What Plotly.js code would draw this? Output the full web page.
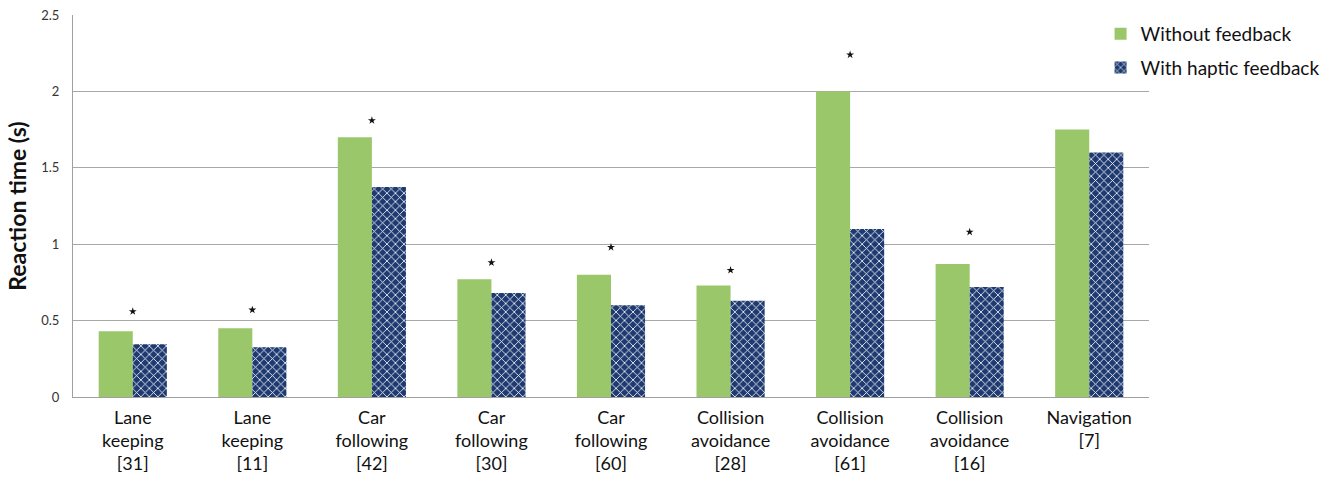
<!DOCTYPE html>
<html>
<head>
<meta charset="utf-8">
<script src="https://cdn.plot.ly/plotly-3.0.1.min.js"></script>
<style>html,body{margin:0;padding:0;background:#fff;}#chart{width:1337px;height:486px;}</style>
</head>
<body>
<div id="chart"></div>
<script>
const categories = ["Lane<br>keeping<br>[31]", "Lane<br>keeping<br>[11]", "Car<br>following<br>[42]", "Car<br>following<br>[30]", "Car<br>following<br>[60]", "Collision<br>avoidance<br>[28]", "Collision<br>avoidance<br>[61]", "Collision<br>avoidance<br>[16]", "Navigation<br>[7]"];
const withoutFeedback = [0.43, 0.45, 1.70, 0.77, 0.80, 0.73, 2.00, 0.87, 1.75];
const withHaptic = [0.345, 0.325, 1.375, 0.68, 0.60, 0.63, 1.10, 0.72, 1.60];
const sigCategories = ["Lane<br>keeping<br>[31]", "Lane<br>keeping<br>[11]", "Car<br>following<br>[42]", "Car<br>following<br>[30]", "Car<br>following<br>[60]", "Collision<br>avoidance<br>[28]", "Collision<br>avoidance<br>[61]", "Collision<br>avoidance<br>[16]"];
const sigY = [0.56, 0.57, 1.81, 0.88, 0.98, 0.83, 2.24, 1.08];
const yTicks = [0, 0.5, 1, 1.5, 2, 2.5];
const yTickText = ["0", "0.5", "1", "1.5", "2", "2.5"];

const font = "Lato, 'Open Sans', sans-serif";
const traces = [
  {type: "bar", name: "Without feedback", x: categories, y: withoutFeedback,
   marker: {color: "#9BC76B"}, legendgroup: "a"},
  {type: "bar", name: "With haptic feedback", x: categories, y: withHaptic,
   marker: {color: "#1E3A70", pattern: {shape: "x", bgcolor: "#1E3A70", fgcolor: "#ffffff", size: 6, solidity: 0.25, fillmode: "replace"}},
   legendgroup: "b"},
  {type: "scatter", mode: "markers", x: sigCategories, y: sigY, showlegend: false,
   marker: {symbol: "star", size: 6, color: "#111"}, hoverinfo: "skip"}
];
const layout = {
  width: 1337, height: 486,
  margin: {l: 73, r: 179, t: 15, b: 89},
  paper_bgcolor: "#fff", plot_bgcolor: "#fff",
  barmode: "group", bargap: 0.43, bargroupgap: 0,
  font: {family: font, color: "#222", size: 18},
  showlegend: true,
  legend: {x: 0.955, xanchor: "left", y: 1.0, yanchor: "top",
           font: {size: 19, color: "#111"}, tracegroupgap: 6, bgcolor: "rgba(0,0,0,0)"},
  xaxis: {type: "category", showgrid: false, showline: true, linecolor: "#a0a0a0", linewidth: 1, ticks: "", tickfont: {size: 18, color: "#111"}, ticklabelstandoff: 4, fixedrange: true, automargin: false},
  yaxis: {range: [0, 2.5], tickvals: yTicks, ticktext: yTickText, showgrid: true, gridcolor: "#a8a8a8", gridwidth: 1,
          showline: true, linecolor: "#a0a0a0", linewidth: 1, ticks: "", zeroline: false, automargin: false,
          tickfont: {size: 13, color: "#333"}, ticklabelstandoff: 10,
          title: {text: "<b>Reaction time (s)</b>", font: {size: 23, color: "#111"}, standoff: 8}}
};
Plotly.newPlot("chart", traces, layout, {displayModeBar: false, staticPlot: true});
</script>
</body>
</html>
